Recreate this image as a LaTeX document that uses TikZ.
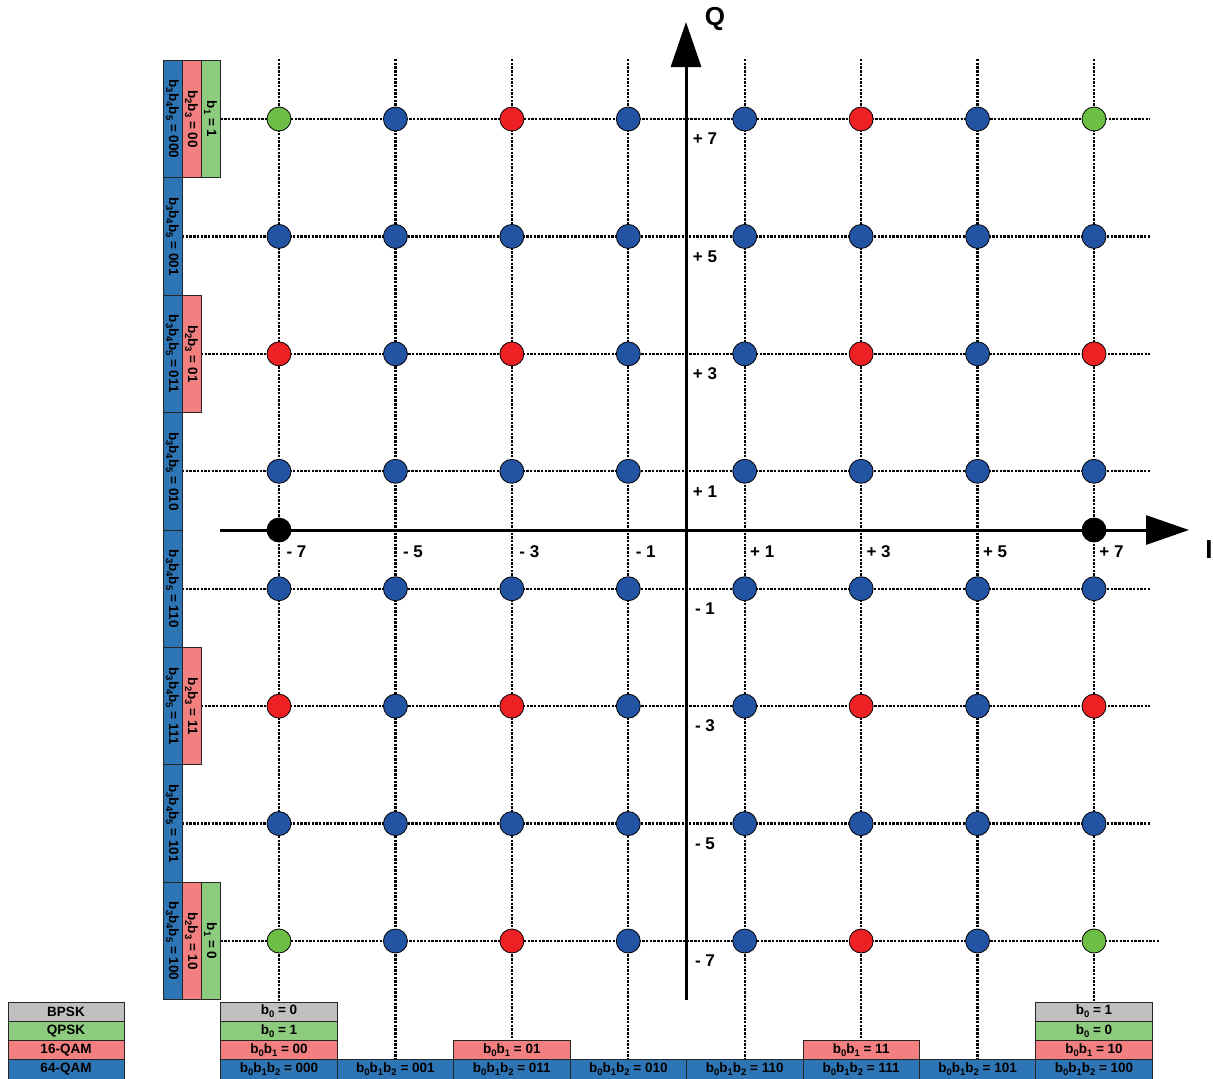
\documentclass[tikz,border=0pt]{standalone}
\usepackage{fontspec}
\setmainfont{Liberation Sans}
\usetikzlibrary{arrows.meta}
\definecolor{bxblue}{RGB}{46,117,182}
\definecolor{bxred}{RGB}{243,128,128}
\definecolor{bxgreen}{RGB}{141,203,126}
\definecolor{bxgray}{RGB}{192,192,192}
\definecolor{dtblue}{RGB}{35,84,163}
\definecolor{dtred}{RGB}{237,32,36}
\definecolor{dtgreen}{RGB}{109,190,69}
\newcommand\subx[1]{\raisebox{-3pt}{\fontsize{9.5}{9.5}\selectfont #1}}
\begin{document}
\begin{tikzpicture}[x=1pt,y=-1pt,
  dotline/.style={line width=2.4pt, dash pattern=on 2.4pt off 1.3pt},
  axisline/.style={line width=3pt},
  pt/.style={circle, draw=black, line width=0.8pt, minimum size=24pt, inner sep=0pt},
  cell/.style={draw=black!85, line width=0.8pt, inner sep=0pt, font=\bfseries\fontsize{13.5}{13.5}\selectfont},
  hcell/.style={cell, minimum width=116.43pt, minimum height=19.25pt},
  vcell/.style={cell, rotate=-90, minimum width=117.43pt, minimum height=19pt},
  lab/.style={font=\bfseries\fontsize{17}{17}\selectfont, inner sep=0pt},
  axlab/.style={font=\bfseries\fontsize{26}{26}\selectfont, inner sep=0pt}]
\useasboundingbox (0,0) rectangle (1213,1079);

% horizontal dotted grid lines
\foreach \j/\xs/\xe in {0/220.5/1150,1/182/1150,2/201/1150,3/182/1150,4/182/1150,5/201/1150,6/182/1150,7/220.5/1160}{
  \pgfmathsetmacro\yy{119+117.43*\j}
  \draw[dotline] (\xs,\yy) -- (\xe,\yy);
}
% vertical dotted grid lines
\foreach \i/\ye in {0/1002,1/1059.75,2/1040.5,3/1059.75,4/1059.75,5/1040.5,6/1059.75,7/1002}{
  \pgfmathsetmacro\xx{279+116.43*\i}
  \draw[dotline] (\xx,59) -- (\xx,\ye);
}

% axes
\coordinate (qbot) at (686,1000);
\coordinate (qtop) at (686,22);
\coordinate (ileft) at (220,530);
\coordinate (iright) at (1189,530);
\draw[axisline, -{Triangle[length=45pt,width=30pt]}] (qbot) -- (qtop);
\draw[axisline, -{Triangle[length=43pt,width=29pt]}] (ileft) -- (iright);
\node[axlab] (qname) at (715,18.5) {Q};
\node[axlab] (iname) at (1209,550) {I};

% constellation points
\foreach \i in {0,...,7}{
  \foreach \j in {0,...,7}{
    \pgfmathsetmacro\xx{279+116.43*\i}
    \pgfmathsetmacro\yy{119+117.43*\j}
    \pgfmathtruncatemacro\ci{(\i==0||\i==7)?1:0}
    \pgfmathtruncatemacro\cj{(\j==0||\j==7)?1:0}
    \pgfmathtruncatemacro\ri{(\i==0||\i==2||\i==5||\i==7)?1:0}
    \pgfmathtruncatemacro\rj{(\j==0||\j==2||\j==5||\j==7)?1:0}
    \ifnum\ci\cj=11
      \def\col{dtgreen}
    \else
      \ifnum\ri\rj=11 \def\col{dtred}\else\def\col{dtblue}\fi
    \fi
    \node[pt, fill=\col] (p\i\j) at (\xx,\yy) {};
  }
}
\node[pt, fill=black] (bpskl) at (279,530) {};
\node[pt, fill=black] (bpskr) at (1094,530) {};

% axis value labels
\foreach \i/\t in {0/- 7,1/- 5,2/- 3,3/- 1,4/+ 1,5/+ 3,6/+ 5,7/+ 7}{
  \pgfmathsetmacro\xx{279+116.43*\i+17.5}
  \node[lab] (ix\i) at (\xx,551.5) {\t};
}
\foreach \j/\t in {0/+ 7,1/+ 5,2/+ 3,3/+ 1,4/- 1,5/- 3,6/- 5,7/- 7}{
  \pgfmathsetmacro\yy{119+117.43*\j+20}
  \node[lab] (qy\j) at (705,\yy) {\t};
}

% left label boxes
\foreach \j/\t in {0/000,1/001,2/011,3/010,4/110,5/111,6/101,7/100}{
  \pgfmathsetmacro\yy{119+117.43*\j}
  \node[vcell, fill=bxblue] (lb\j) at (172.5,\yy) {b\subx{3}b\subx{4}b\subx{5} = \t};
}
\foreach \j/\t in {0/00,2/01,5/11,7/10}{
  \pgfmathsetmacro\yy{119+117.43*\j}
  \node[vcell, fill=bxred] (lr\j) at (191.5,\yy) {b\subx{2}b\subx{3} = \t};
}
\foreach \j/\t in {0/1,7/0}{
  \pgfmathsetmacro\yy{119+117.43*\j}
  \node[vcell, fill=bxgreen] (lg\j) at (210.5,\yy) {b\subx{1} = \t};
}

% bottom label boxes
\foreach \i/\t in {0/000,1/001,2/011,3/010,4/110,5/111,6/101,7/100}{
  \pgfmathsetmacro\xx{279+116.43*\i}
  \node[hcell, fill=bxblue] (bb\i) at (\xx,1069.4) {b\subx{0}b\subx{1}b\subx{2} = \t};
}
\foreach \i/\t in {0/00,2/01,5/11,7/10}{
  \pgfmathsetmacro\xx{279+116.43*\i}
  \node[hcell, fill=bxred] (br\i) at (\xx,1050.1) {b\subx{0}b\subx{1} = \t};
}
\foreach \i/\t in {0/1,7/0}{
  \pgfmathsetmacro\xx{279+116.43*\i}
  \node[hcell, fill=bxgreen] (bg\i) at (\xx,1030.9) {b\subx{0} = \t};
}
\foreach \i/\t in {0/0,7/1}{
  \pgfmathsetmacro\xx{279+116.43*\i}
  \node[hcell, fill=bxgray] (bs\i) at (\xx,1011.6) {b\subx{0} = \t};
}

% legend
\node[hcell, minimum width=116pt, fill=bxgray] (leg1) at (66,1011.6) {BPSK};
\node[hcell, minimum width=116pt, fill=bxgreen] (leg2) at (66,1030.9) {QPSK};
\node[hcell, minimum width=116pt, fill=bxred] (leg3) at (66,1050.1) {16-QAM};
\node[hcell, minimum width=116pt, fill=bxblue] (leg4) at (66,1069.4) {64-QAM};
\end{tikzpicture}
\end{document}
